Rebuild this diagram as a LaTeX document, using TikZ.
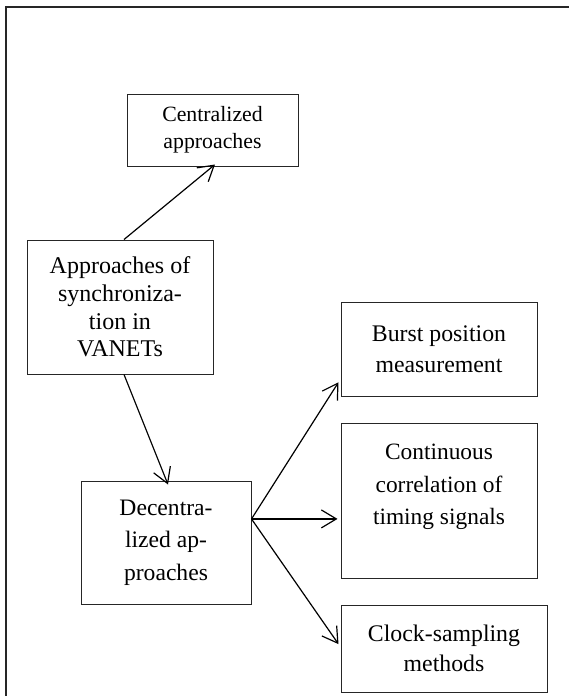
\documentclass[tikz,border=0pt]{standalone}
\usepackage{fontspec}
\setmainfont{Liberation Serif}
\usetikzlibrary{arrows.meta,calc}

\tikzset{
  box/.style={draw=black!85, line width=1pt, inner sep=0pt, align=center,
    font=\fontsize{23.8}{31}\selectfont},
  link/.style={line width=1.2pt, -{Straight Barb[length=15pt,width=18pt,line width=1.2pt]}},
  frame/.style={draw=black!85, line width=1.5pt}
}

\begin{document}
\begin{tikzpicture}[x=1pt, y=-1pt]
  \useasboundingbox (0,0) rectangle (569,696);

  % outer frame: only its top and left sides fall on the page
  \coordinate (frametl) at (6,7);
  \draw[frame] (569,7) -- (frametl) -- (6,696);

  % boxes
  \node[box, minimum width=171pt, minimum height=72pt,
        font=\fontsize{21.8}{27}\selectfont] (cen) at (212.5,130)
        {Centralized\\approaches};
  \node[box, minimum width=186pt, minimum height=134pt,
        font=\fontsize{24}{27.7}\selectfont] (app) at (120,307)
        {Approaches of\\synchroniza-\\tion in\\VANETs};
  \node[box, minimum width=170pt, minimum height=123pt,
        font=\fontsize{23.6}{32.5}\selectfont] (dec) at (166,542.5)
        {Decentra-\\lized ap-\\proaches};
  \node[box, minimum width=196pt, minimum height=94pt] (burst) at (439,349)
        {Burst position\\measurement};
  \node[box, minimum width=196pt, minimum height=155pt,
        font=\fontsize{23.4}{32.5}\selectfont] (cont) at (439,500.5)
        {Continuous\\correlation of\\timing signals\\\mbox{}};
  \node[box, minimum width=206pt, minimum height=87pt,
        font=\fontsize{23.8}{30}\selectfont] (clock) at (444,648.5)
        {Clock-sampling\\methods};

  % branching point on the right side of the decentralized box
  \coordinate (fan) at ($(dec.north east)!0.31!(dec.south east)$);
  \coordinate (burstin) at ($(burst.north west)!0.85!(burst.south west)$);
  \coordinate (clockin) at ($(clock.north west)!0.45!(clock.south west)$);

  % connectors
  \draw[link] ($(app.north)+(4,0)$) -- ($(cen.south)+(2.5,-2)$);
  \draw[link] ($(app.south)+(4,0)$) -- ($(dec.north)+(2,4)$);
  \draw[link] (fan) -- ($(burstin)+(-2,0)$);
  \draw[link] (fan) -- ($(fan -| cont.west)+(-3,0)$);
  \draw[link] (fan) -- ($(clockin)+(-2,0)$);
\end{tikzpicture}
\end{document}
